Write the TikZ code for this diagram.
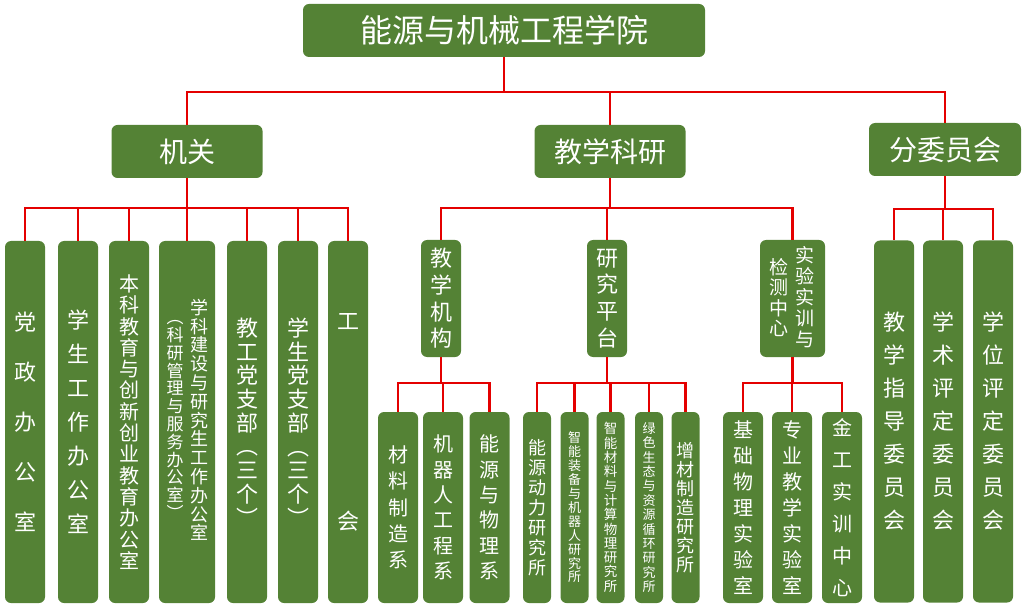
\documentclass[tikz,border=0pt]{standalone}
\usepackage{fontspec}
\newfontfamily\cjk{Noto Sans CJK SC}
\usetikzlibrary{positioning}
\definecolor{unitgreen}{RGB}{84,130,53}
\definecolor{linkred}{RGB}{228,0,0}
\newcommand\vtfont[2]{\cjk\fontsize{#1}{#2}\selectfont}
\tikzset{
	unit/.style={fill=unitgreen, rounded corners=6pt, text=white, inner sep=0pt, align=center},
	tall/.style={unit, minimum width=40pt, minimum height=362pt},
	mid/.style={unit, minimum width=40pt, minimum height=117pt},
	low/.style={unit, minimum width=40pt, minimum height=191pt},
	thin/.style={unit, minimum width=28pt, minimum height=191pt},
	link/.style={draw=linkred, line width=2.2pt},
}

\begin{document}
\begin{tikzpicture}[x=1pt, y=-1pt]
		\useasboundingbox (0,0) rectangle (1024,609);

		\node[unit, minimum width=402pt, minimum height=53pt, font=\vtfont{32}{36}] (college) at (504,30.5) {能源与机械工程学院};
		\node[unit, minimum width=151pt, minimum height=53pt, font=\vtfont{28}{32}] (jg) at (187,151.5) {机关};
		\node[unit, minimum width=151pt, minimum height=53pt, font=\vtfont{28}{32}] (jxky) at (610,151.5) {教学科研};
		\node[unit, minimum width=152pt, minimum height=53pt, font=\vtfont{28}{32}] (fwyh) at (945,149.5) {分委员会};

		% jiguan
		\node[tall, font=\vtfont{22}{50}] (dzb) at (25,422) {党\\政\\办\\公\\室};
		\node[tall, font=\vtfont{22}{34}] (xsgz) at (78,422) {学\\生\\工\\作\\办\\公\\室};
		\node[tall, font=\vtfont{20}{21.3}] (bkjy) at (129,422) {本\\科\\教\\育\\与\\创\\新\\创\\业\\教\\育\\办\\公\\室};
		\node[tall, minimum width=56pt] (xkjs) at (187,422) {};
		\node[text=white, align=center, inner sep=0pt, font=\vtfont{18}{18.8}] (xkjsR) at ([xshift=12pt,yshift=2pt]xkjs.center) {学\\科\\建\\设\\与\\研\\究\\生\\工\\作\\办\\公\\室};
		\node[text=white, align=center, inner sep=0pt, font=\vtfont{17}{17.8}] (xkjsL) at ([xshift=-12pt,yshift=2pt]xkjs.center) {︵\\科\\研\\管\\理\\与\\服\\务\\办\\公\\室\\︶};
		\node[tall, font=\vtfont{22}{23.7}] (jgdzb) at (247,422) {教\\工\\党\\支\\部\\︵\\三\\个\\︶};
		\node[tall, font=\vtfont{22}{23.7}] (xsdzb) at (298,422) {学\\生\\党\\支\\部\\︵\\三\\个\\︶};
		\node[tall, font=\vtfont{22}{200}] (gh) at (348,422) {工\\会};

		% jiaoxue keyan
		\node[mid, font=\vtfont{22}{26.7}] (jxjg) at (441,298.5) {教\\学\\机\\构};
		\node[mid, font=\vtfont{22}{26.7}] (yjpt) at (607,298.5) {研\\究\\平\\台};
		\node[mid, minimum width=65pt] (syzx) at (792.5,298.5) {};
		\node[text=white, align=center, inner sep=0pt, font=\vtfont{19}{21}] (syzxR) at ([xshift=12.5pt,yshift=1pt]syzx.center) {实\\验\\实\\训\\与};
		\node[text=white, align=center, inner sep=0pt, font=\vtfont{19}{20.5}] (syzxL) at ([xshift=-13.5pt,yshift=1pt]syzx.center) {检\\测\\中\\心};

		\node[low, font=\vtfont{20}{26.3}] (clzz) at (398,507.5) {材\\料\\制\\造\\系};
		\node[low, font=\vtfont{20}{25.3}] (jqr) at (443,507.5) {机\\器\\人\\工\\程\\系};
		\node[low, font=\vtfont{20}{25.3}] (nywl) at (489.5,507.5) {能\\源\\与\\物\\理\\系};

		\node[thin, font=\vtfont{18}{20}] (nydl) at (537,507.5) {能\\源\\动\\力\\研\\究\\所};
		\node[thin, font=\vtfont{13}{13.9}] (znzb) at (574.5,507.5) {智\\能\\装\\备\\与\\机\\器\\人\\研\\究\\所};
		\node[thin, font=\vtfont{13.5}{14.3}] (zncl) at (610.5,507.5) {智\\能\\材\\料\\与\\计\\算\\物\\理\\研\\究\\所};
		\node[thin, font=\vtfont{13}{14.4}] (lsst) at (649,507.5) {绿\\色\\生\\态\\与\\资\\源\\循\\环\\研\\究\\所};
		\node[thin, font=\vtfont{18}{19}] (zczz) at (685.5,507.5) {增\\材\\制\\造\\研\\究\\所};

		\node[low, font=\vtfont{20}{26}] (jcwl) at (743,507.5) {基\\础\\物\\理\\实\\验\\室};
		\node[low, font=\vtfont{20}{26}] (zyjx) at (792,507.5) {专\\业\\教\\学\\实\\验\\室};
		\node[low, font=\vtfont{20}{32}] (jgsx) at (842,507.5) {金\\工\\实\\训\\中\\心};

		% fen weiyuanhui
		\node[tall, font=\vtfont{22}{33}] (jxzd) at (894,421.5) {教\\学\\指\\导\\委\\员\\会};
		\node[tall, font=\vtfont{22}{33}] (xspd) at (943,421.5) {学\\术\\评\\定\\委\\员\\会};
		\node[tall, font=\vtfont{22}{33}] (xwpd) at (993,421.5) {学\\位\\评\\定\\委\\员\\会};

		\foreach \c in {jg,jxky,fwyh}
			\draw[link] (college.south) -- ++(0,35) -| (\c.north);
		\foreach \c in {dzb,xsgz,bkjy,xkjs,jgdzb,xsdzb,gh}
			\draw[link] (jg.south) -- ++(0,30) -| (\c.north);
		\foreach \c in {jxjg,yjpt,syzx}
			\draw[link] (jxky.south) -- ++(0,30) -| (\c.north);
		\foreach \c in {jxzd,xspd,xwpd}
			\draw[link] (fwyh.south) -- ++(0,33) -| (\c.north);
		\foreach \c in {clzz,jqr,nywl}
			\draw[link] (jxjg.south) -- ++(0,26) -| (\c.north);
		\foreach \c in {nydl,znzb,zncl,lsst,zczz}
			\draw[link] (yjpt.south) -- ++(0,26) -| (\c.north);
		\foreach \c in {jcwl,zyjx,jgsx}
			\draw[link] (syzx.south) -- ++(0,26) -| (\c.north);
	\end{tikzpicture}
\end{document}
